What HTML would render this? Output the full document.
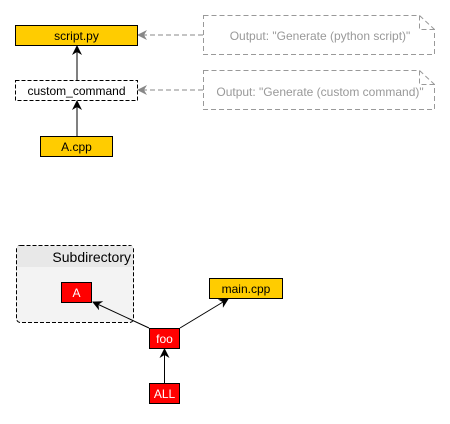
<!DOCTYPE html>
<html><head><style>
body{margin:0;width:450px;height:419px;background:#fff;overflow:hidden}
svg{font-family:"Liberation Sans",sans-serif}
</style></head><body>
<svg width="450" height="419" viewBox="0 0 450 419">
<defs>
<marker id="a" markerWidth="10" markerHeight="10" refX="9" refY="5" orient="auto" markerUnits="userSpaceOnUse"><path d="M0,0 L10,5 L0,10 L3,5 Z" fill="#000"/></marker>
<marker id="g" markerWidth="10" markerHeight="10" refX="9" refY="5" orient="auto" markerUnits="userSpaceOnUse"><path d="M0,0 L10,5 L0,10 L3,5 Z" fill="#888"/></marker>
</defs>
<!-- notes -->
<path d="M203.5,15.5 H419.5 L434.5,29.5 V54.5 H203.5 Z M419.5,15.5 V29.5 H434.5" fill="#fff" stroke="#999" stroke-dasharray="5,3"/>
<text x="320" y="40" font-size="12" fill="#999" text-anchor="middle">Output: "Generate (python script)"</text>
<path d="M203.5,70.5 H419.5 L434.5,84.5 V109.5 H203.5 Z M419.5,70.5 V84.5 H434.5" fill="#fff" stroke="#999" stroke-dasharray="5,3"/>
<text x="320" y="96" font-size="12" fill="#999" text-anchor="middle">Output: "Generate (custom command)"</text>
<line x1="203" y1="35" x2="138" y2="35" stroke="#888" stroke-dasharray="5,3" marker-end="url(#g)"/>
<line x1="203" y1="90" x2="138" y2="90" stroke="#888" stroke-dasharray="5,3" marker-end="url(#g)"/>
<!-- nodes -->
<rect x="15.5" y="25.5" width="122" height="20" fill="#ffcc00" stroke="#000"/>
<text x="76.5" y="40" font-size="12" text-anchor="middle">script.py</text>
<rect x="15.5" y="80.5" width="122" height="20" fill="#fff" stroke="#000" stroke-dasharray="4,2"/>
<text x="76.5" y="95" font-size="12" text-anchor="middle">custom_command</text>
<rect x="40.5" y="136.5" width="72" height="20" fill="#ffcc00" stroke="#000"/>
<text x="76.5" y="151" font-size="12" text-anchor="middle">A.cpp</text>
<line x1="77" y1="80" x2="77" y2="46" stroke="#000" marker-end="url(#a)"/>
<line x1="77" y1="136" x2="77" y2="101" stroke="#000" marker-end="url(#a)"/>
<!-- group -->
<rect x="16.5" y="245.5" width="117" height="77" rx="4" fill="#f3f3f3" stroke="#000" stroke-dasharray="4,2"/>
<rect x="17" y="246" width="116" height="21" fill="#e8e8e8"/>
<text x="131" y="262" font-size="14" text-anchor="end">Subdirectory</text>
<rect x="61.5" y="282.5" width="30" height="20" fill="#f00" stroke="#000"/>
<text x="76.5" y="297" font-size="12" fill="#fff" text-anchor="middle">A</text>
<rect x="209.5" y="278.5" width="73" height="20" fill="#ffcc00" stroke="#000"/>
<text x="246" y="293" font-size="12" text-anchor="middle">main.cpp</text>
<rect x="149.5" y="328.5" width="30" height="20" fill="#f00" stroke="#000"/>
<text x="164.5" y="343" font-size="12" fill="#fff" text-anchor="middle">foo</text>
<rect x="149.5" y="383.5" width="30" height="20" fill="#f00" stroke="#000"/>
<text x="164.5" y="398" font-size="12" fill="#fff" text-anchor="middle">ALL</text>
<line x1="149" y1="328" x2="93" y2="302" stroke="#000" marker-end="url(#a)"/>
<line x1="180" y1="328" x2="228" y2="299" stroke="#000" marker-end="url(#a)"/>
<line x1="164.5" y1="383" x2="164.5" y2="349" stroke="#000" marker-end="url(#a)"/>
</svg>
</body></html>
